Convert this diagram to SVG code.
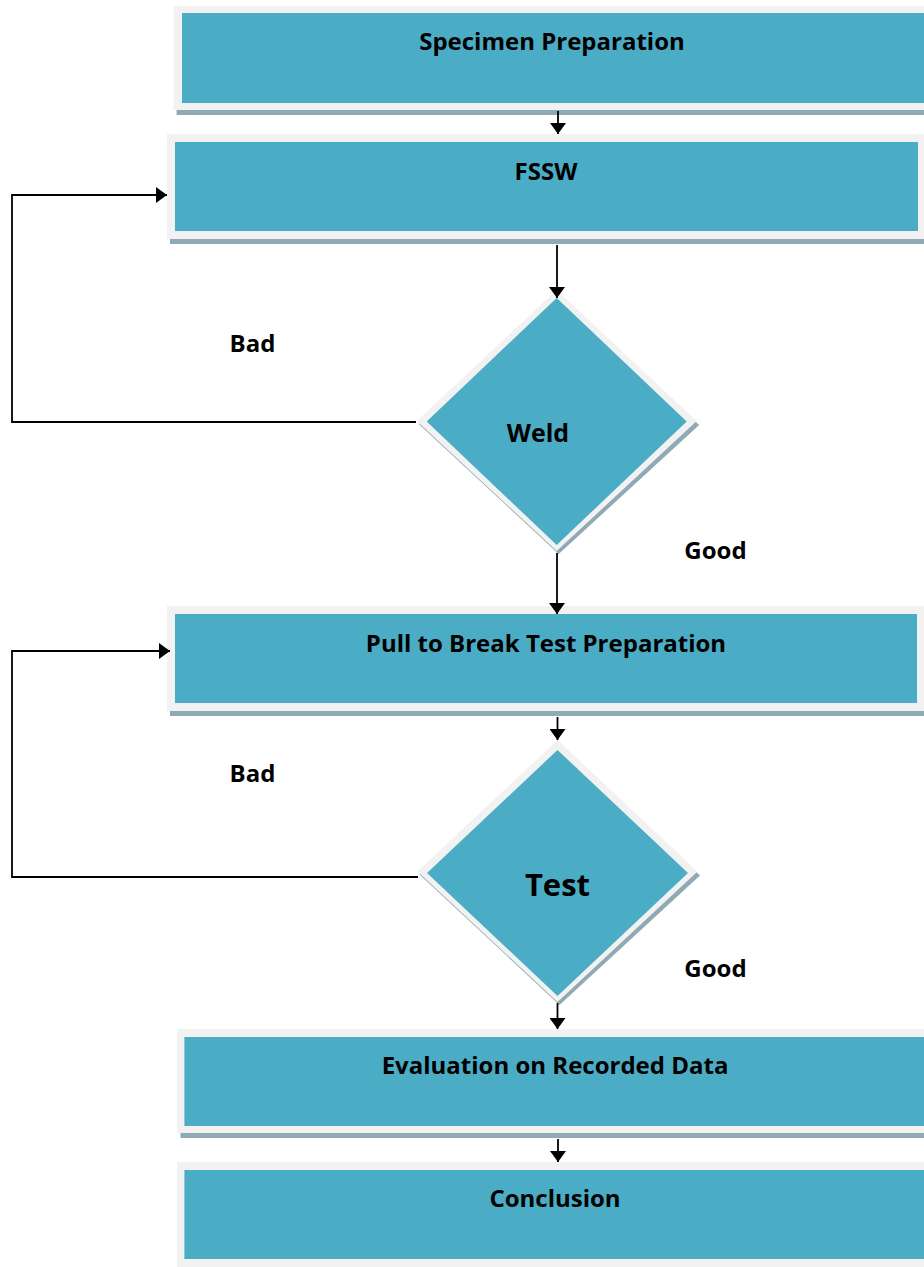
<svg xmlns="http://www.w3.org/2000/svg" width="924" height="1267" viewBox="0 0 924 1267">
<style>
.frame{fill:#f2f2f2}
.fill{fill:#4bacc6}
.shadow{fill:#8faab4}
.lbl{font-family:"Open Sans","Liberation Sans",sans-serif;font-weight:bold;font-size:24px;fill:#000;text-anchor:middle}
.conn{fill:none;stroke:#000;stroke-width:1.8}
</style>
<defs>
<marker id="arr" markerUnits="userSpaceOnUse" markerWidth="12" markerHeight="16" refX="11" refY="8" orient="auto">
<path d="M0,0 L11,8 L0,16 z" fill="#000"/>
</marker>
</defs>
<rect width="924" height="1267" fill="#fff"/>

<g id="specimen-preparation">
<rect class="shadow" x="176.6" y="11" width="760" height="104"/>
<rect class="frame" x="173.6" y="6" width="760" height="104"/>
<rect class="fill" x="182" y="13" width="750" height="90"/>
<text class="lbl" x="552" y="50">Specimen Preparation</text>
</g>

<g id="fssw">
<rect class="shadow" x="170" y="139" width="760" height="105"/>
<rect class="frame" x="167" y="134" width="757" height="105"/>
<rect class="fill" x="175" y="142" width="743" height="89"/>
<text class="lbl" x="546" y="180">FSSW</text>
</g>

<g id="weld">
<polygon class="shadow" points="558.7,293 699.2,425 558.7,554 418.7,424"/>
<polygon class="frame" points="556.7,290 696.7,421 556.7,551 416.7,421"/>
<polygon class="fill" points="556.7,298 686.7,421.5 556.7,545 426.7,421.5"/>
<text class="lbl" x="538" y="441.7" style="font-size:25px">Weld</text>
</g>

<g id="pull-to-break-test-preparation">
<rect class="shadow" x="170" y="611" width="760" height="105"/>
<rect class="frame" x="167" y="606" width="757" height="105"/>
<rect class="fill" x="175" y="614" width="742" height="89"/>
<text class="lbl" x="546" y="651.7">Pull to Break Test Preparation</text>
</g>

<g id="test">
<polygon class="shadow" points="559.5,743 700,875.5 559.5,1005 419.5,874.5"/>
<polygon class="frame" points="557.5,740 697.5,871.5 557.5,1002 417.5,871.5"/>
<polygon class="fill" points="557.5,750 688,873 557.5,996 427,873"/>
<text class="lbl" x="557.5" y="895.7" style="font-size:31px">Test</text>
</g>

<g id="evaluation-on-recorded-data">
<rect class="shadow" x="180.5" y="1034" width="760" height="104"/>
<rect class="frame" x="177" y="1029" width="760" height="104"/>
<rect class="fill" x="184.4" y="1037" width="750" height="89"/>
<text class="lbl" x="555" y="1074">Evaluation on Recorded Data</text>
</g>

<g id="conclusion">
<rect class="frame" x="177" y="1162" width="760" height="110"/>
<rect class="fill" x="184.4" y="1170" width="750" height="89"/>
<text class="lbl" x="555" y="1207">Conclusion</text>
</g>

<g id="connectors">
<line class="conn" x1="558" y1="111" x2="558" y2="134" marker-end="url(#arr)"/>
<line class="conn" x1="557" y1="245" x2="557" y2="298" marker-end="url(#arr)"/>
<line class="conn" x1="557" y1="553" x2="557" y2="614" marker-end="url(#arr)"/>
<line class="conn" x1="557.5" y1="717" x2="557.5" y2="740" marker-end="url(#arr)"/>
<line class="conn" x1="557.5" y1="1003" x2="557.5" y2="1029" marker-end="url(#arr)"/>
<line class="conn" x1="558" y1="1139" x2="558" y2="1162" marker-end="url(#arr)"/>
<polyline class="conn" points="416,422 12,422 12,195 167,195" marker-end="url(#arr)"/>
<polyline class="conn" points="418,877 12,877 12,651 170,651" marker-end="url(#arr)"/>
</g>

<g id="labels">
<text class="lbl" x="252.5" y="351.7">Bad</text>
<text class="lbl" x="252.5" y="781.7">Bad</text>
<text class="lbl" x="715.5" y="559.3">Good</text>
<text class="lbl" x="715.5" y="976.7">Good</text>
</g>
</svg>
